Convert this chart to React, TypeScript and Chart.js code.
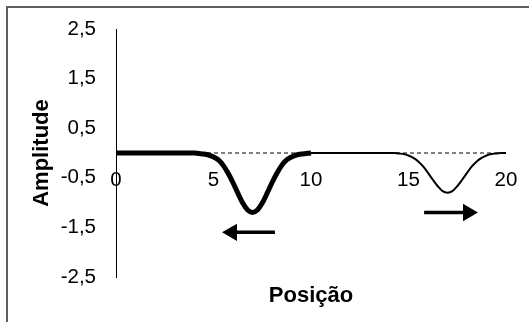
import React, { useEffect, useRef } from "react";
import { Chart, registerables } from "chart.js";

Chart.register(...registerables);

// Incident (thick) pulse, positions 0..10
const thickX = [0, 4, 4.25, 4.5, 4.75, 5, 5.25, 5.5, 5.75, 6, 6.25, 6.5, 6.75, 7, 7.25, 7.5, 7.75, 8, 8.25, 8.5, 8.75, 9, 9.25, 9.5, 9.75, 10];
const thickY = [0, 0, -0.01, -0.02, -0.04, -0.08, -0.14, -0.25, -0.41, -0.6, -0.81, -1.01, -1.15, -1.2, -1.15, -1.01, -0.81, -0.6, -0.41, -0.25, -0.14, -0.08, -0.04, -0.02, -0.01, 0];

// Second (thin) pulse, positions 10..20
const thinX = [10, 14, 14.25, 14.5, 14.75, 15, 15.25, 15.5, 15.75, 16, 16.25, 16.5, 16.75, 17, 17.25, 17.5, 17.75, 18, 18.25, 18.5, 18.75, 19, 19.25, 19.5, 19.75, 20];
const thinY = [0, 0, 0, -0.01, -0.02, -0.05, -0.1, -0.17, -0.27, -0.4, -0.54, -0.67, -0.77, -0.8, -0.77, -0.67, -0.54, -0.4, -0.27, -0.17, -0.1, -0.05, -0.02, -0.01, 0, 0];

// Reference (dashed) baseline
const baseX = [0, 20];
const baseY = [0, 0];

// Arrows: [tail, tip]
const arrowLeftX = [8.15, 5.95];
const arrowLeftY = [-1.6, -1.6];
const arrowRightX = [15.8, 18.05];
const arrowRightY = [-1.2, -1.2];

const xTicks = [0, 5, 10, 15, 20];
const yTicks = [-2.5, -1.5, -0.5, 0.5, 1.5, 2.5];

const xTitle = "Posição";
const yTitle = "Amplitude";

const pts = (xs: number[], ys: number[]) => xs.map((x, i) => ({ x, y: ys[i] }));

export default function App() {
  const ref = useRef<HTMLCanvasElement | null>(null);
  useEffect(() => {
    if (!ref.current) return;
    document.documentElement.style.overflow = "hidden";
    document.body.style.overflow = "hidden";
    const font = "'Liberation Sans', Arial, sans-serif";
    const chart = new Chart(ref.current, {
      type: "line",
      data: {
        datasets: [
          {
            data: pts(arrowLeftX, arrowLeftY),
            borderColor: "#000",
            backgroundColor: "#000",
            borderWidth: 3.5,
            pointStyle: "triangle",
            pointRadius: [0, 10],
            pointRotation: [0, -90],
            pointBorderWidth: 0,
            pointBackgroundColor: "#000",
            pointHoverRadius: 0,
          },
          {
            data: pts(arrowRightX, arrowRightY),
            borderColor: "#000",
            backgroundColor: "#000",
            borderWidth: 3.5,
            pointStyle: "triangle",
            pointRadius: [0, 10],
            pointRotation: [0, 90],
            pointBorderWidth: 0,
            pointBackgroundColor: "#000",
            pointHoverRadius: 0,
          },
          {
            data: pts(thickX, thickY),
            borderColor: "#000",
            borderWidth: 5,
            pointRadius: 0,
            pointHoverRadius: 0,
            cubicInterpolationMode: "monotone",
          },
          {
            data: pts(thinX, thinY),
            borderColor: "#000",
            borderWidth: 2,
            pointRadius: 0,
            pointHoverRadius: 0,
            cubicInterpolationMode: "monotone",
          },
          {
            data: pts(baseX, baseY),
            borderColor: "#000",
            borderWidth: 1,
            borderDash: [4, 3],
            pointRadius: 0,
            pointHoverRadius: 0,
          },
        ],
      },
      options: {
        animation: false,
        responsive: false,
        maintainAspectRatio: false,
        events: [],
        layout: { autoPadding: false, padding: { top: 21, right: 23, bottom: 9, left: 0 } },
        plugins: { legend: { display: false }, tooltip: { enabled: false } },
        scales: {
          x: {
            type: "linear",
            position: { y: 0 } as any,
            min: 0,
            max: 20,
            afterBuildTicks: (s: any) => {
              s.ticks = xTicks.map((v) => ({ value: v }));
            },
            grid: { display: false, drawTicks: false },
            border: { display: false },
            ticks: {
              padding: 15,
              color: "#000",
              font: { family: font, size: 20.5 },
              maxRotation: 0,
              autoSkip: false,
            },
            afterFit: (s: any) => {
              s.paddingLeft = 0;
              s.paddingRight = 0;
              s.paddingTop = 0;
              s.paddingBottom = 0;
            },
          },
          x2: {
            type: "linear",
            position: "bottom",
            min: 0,
            max: 20,
            grid: { display: false, drawTicks: false },
            border: { display: false },
            ticks: { display: false },
            title: {
              display: true,
              text: xTitle,
              color: "#000",
              font: { family: font, size: 22, weight: "bold" },
              padding: { top: 4, bottom: 4 },
            },
            afterFit: (s: any) => {
              s.height = 36;
              s.paddingLeft = 0;
              s.paddingRight = 0;
            },
          },
          y: {
            type: "linear",
            position: "left",
            min: -2.5,
            max: 2.5,
            afterBuildTicks: (s: any) => {
              s.ticks = yTicks.map((v) => ({ value: v }));
            },
            grid: { display: false, drawTicks: false },
            border: { display: true, color: "#000", width: 1 },
            ticks: {
              padding: 20,
              color: "#000",
              font: { family: font, size: 20.5 },
              callback: (v: any) => String(Math.round(Number(v) * 10) / 10).replace(".", ","),
            },
            title: {
              display: true,
              text: yTitle,
              color: "#000",
              font: { family: font, size: 22, weight: "bold" },
              padding: { top: 21, bottom: 0 },
            },
            afterFit: (s: any) => {
              s.width = 108;
              s.paddingTop = 0;
              s.paddingBottom = 0;
            },
          },
        },
      },
    });
    return () => chart.destroy();
  }, []);

  return (
    <div
      style={{
        position: "fixed",
        left: 6,
        top: 6,
        width: 560,
        height: 360,
        borderTop: "2px solid #5f5f5f",
        borderLeft: "2px solid #5f5f5f",
        background: "#fff",
        overflow: "hidden",
      }}
    >
      <canvas ref={ref} width={521} height={314} style={{ display: "block", width: 521, height: 314 }} />
    </div>
  );
}
